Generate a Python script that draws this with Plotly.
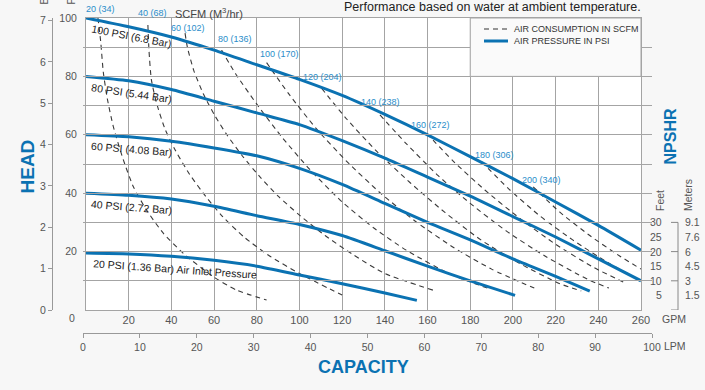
import plotly.graph_objects as go

# ---------------- data ----------------
# Air pressure curves (GPM vs head in ft)
gpm_psi100 = [0, 20, 40, 60, 80, 100, 120, 140, 160, 180, 200, 220, 240, 260]
head_psi100 = [100, 97, 93.5, 89, 84, 79, 73.5, 67, 60, 52.5, 45, 37, 29, 20.5]
gpm_psi80 = [0, 20, 40, 60, 80, 100, 120, 140, 160, 180, 200, 220, 240, 260]
head_psi80 = [80, 78.5, 75.5, 71.5, 67.5, 63.5, 58, 52, 45.5, 39, 32, 25, 17.5, 10]
gpm_psi60 = [0, 20, 40, 60, 80, 100, 120, 140, 160, 180, 200, 220, 236]
head_psi60 = [60, 59.3, 57.8, 55.5, 52.8, 48.5, 43, 36.5, 30, 24, 17.5, 11.5, 6.5]
gpm_psi40 = [0, 20, 40, 60, 80, 100, 120, 140, 160, 180, 201]
head_psi40 = [40, 39.3, 38, 35.5, 32.3, 29.3, 25.5, 20.3, 15, 10, 5]
gpm_psi20 = [0, 20, 40, 60, 80, 100, 120, 140, 155]
head_psi20 = [19.5, 19.2, 18.4, 17, 15, 12, 9, 5.8, 3.3]
psi_labels = ["100 PSI (6.8 Bar)", "80 PSI (5.44 Bar)", "60 PSI (4.08 Bar)",
              "40 PSI (2.72 Bar)", "20 PSI (1.36 Bar) Air Inlet Pressure"]

# Air consumption curves (SCFM)
scfm20_gpm = [5.6, 6.9, 8.1, 10, 12.8, 17.5, 22.2, 28.4, 36.2, 45.6, 59.6, 70.6, 84.6]
scfm20_head = [100, 91.8, 81.5, 72.3, 62.8, 51.4, 42.2, 34.2, 26.3, 19.4, 11.4, 6.8, 3.4]
scfm40_gpm = [29, 29.5, 30.6, 33, 37, 42, 48.5, 56, 64, 74, 86, 100, 120]
scfm40_head = [97.6, 89, 79, 71, 62, 54.5, 46.5, 39, 32, 25, 18.5, 12.5, 5.1]
scfm60_gpm = [46.4, 47.5, 50.5, 55, 60, 66, 73, 81, 90, 100, 112, 125, 140, 162.5]
scfm60_head = [94.8, 90, 82, 74, 67, 60, 53, 46, 39, 32.5, 25.5, 19, 12.5, 6.8]
scfm80_gpm = [63.5, 70, 80, 92, 105, 120, 135, 150, 170, 188]
scfm80_head = [89, 81, 70.5, 59, 48, 37, 28, 20.5, 12.5, 7.5]
scfm100_gpm = [84.6, 95, 108, 122, 138, 155, 172, 190, 210]
scfm100_head = [84.7, 74, 62, 51, 40, 30, 21.5, 14, 7.5]
scfm120_gpm = [110.4, 122, 136, 152, 168, 185, 203, 222, 232]
scfm120_head = [75.9, 65.5, 54.5, 43.5, 33.5, 24, 16, 9, 6.5]
scfm140_gpm = [137.7, 150, 165, 180, 197, 215, 235, 245]
scfm140_head = [66.8, 57, 46, 36.5, 27, 18.5, 10.5, 7.5]
scfm160_gpm = [159.6, 172, 187, 203, 220, 238, 252]
scfm160_head = [60.5, 51, 41, 31.5, 22.5, 14.5, 9.5]
scfm180_gpm = [185.3, 198, 213, 228, 245, 260]
scfm180_head = [50.8, 41.5, 32, 24, 16, 10]
scfm200_gpm = [209.5, 222, 236, 250, 260]
scfm200_head = [42.2, 33.5, 25.5, 18.5, 14]
scfm_labels = ["20 (34)", "40 (68)", "60 (102)", "80 (136)", "100 (170)",
               "120 (204)", "140 (238)", "160 (272)", "180 (306)", "200 (340)"]

# Axis ticks
gpm_ticks = list(range(0, 261, 20))
head_ticks = list(range(0, 101, 10))
head_labels = [20, 40, 60, 80, 100]
bar_ticks = [0, 1, 2, 3, 4, 5, 6, 7]
lpm_ticks = list(range(0, 101, 10))
npshr_feet = [30, 25, 20, 15, 10, 5]
npshr_meters = ["9.1", "7.6", "6", "4.5", "3", "1.5"]
npshr_feet_ticks = [0, 10, 20, 30]

# ---------------- positions / styles ----------------
# label centres in pixels of the 705x390 canvas
scfm_label_px = [100.5, 152.5, 188.3, 235, 279, 322, 380.7, 430.5, 494, 541]
scfm_label_py = [9, 13, 27.7, 39.3, 54.3, 76.7, 102.3, 125, 155, 180]
psi_label_x = [21.1, 21.1, 21.4, 21.5, 41.7]
psi_label_y = [93.7, 74.3, 55.1, 35.4, 14.0]
psi_label_angle = [11, 8.5, 4.5, 4.5, 4]

W, H = 705, 390
ML, MR, MT, MB = 45, 45, 18, 50
PW, PH = W - ML - MR, H - MT - MB


def px(x):
    return (x - ML) / PW


def py(y):
    return (H - MB - y) / PH


BLUE = "#0b72b2"
LBLUE = "#2a8dca"
GRID = "#a4a4a4"
TXT = "#555555"
DARK = "#222222"
FONT = "Liberation Sans, Arial, Helvetica, sans-serif"

fig = go.Figure()

dash_series = [(scfm20_gpm, scfm20_head), (scfm40_gpm, scfm40_head), (scfm60_gpm, scfm60_head),
               (scfm80_gpm, scfm80_head), (scfm100_gpm, scfm100_head), (scfm120_gpm, scfm120_head),
               (scfm140_gpm, scfm140_head), (scfm160_gpm, scfm160_head), (scfm180_gpm, scfm180_head),
               (scfm200_gpm, scfm200_head)]
for gx, hy in dash_series:
    fig.add_trace(go.Scatter(x=gx, y=hy, mode="lines",
                             line=dict(color="#3a3a3a", width=1.1, dash="5px,4px",
                                       shape="spline", smoothing=0.6),
                             showlegend=False, hoverinfo="skip"))

psi_series = [(gpm_psi100, head_psi100), (gpm_psi80, head_psi80), (gpm_psi60, head_psi60),
              (gpm_psi40, head_psi40), (gpm_psi20, head_psi20)]
for gx, hy in psi_series:
    fig.add_trace(go.Scatter(x=gx, y=hy, mode="lines",
                             line=dict(color=BLUE, width=3, shape="spline", smoothing=0.6),
                             showlegend=False, hoverinfo="skip"))

# helper traces so secondary axes render
fig.add_trace(go.Scatter(x=[0], y=[0], yaxis="y2", mode="markers",
                         marker=dict(opacity=0), showlegend=False, hoverinfo="skip"))
fig.add_trace(go.Scatter(x=[0], y=[0], xaxis="x2", mode="markers",
                         marker=dict(opacity=0), showlegend=False, hoverinfo="skip"))

ann = []


def pann(x, y, text, size=10.5, color=TXT, xa="center", ya="middle", angle=0, yref="paper"):
    ann.append(dict(x=px(x), y=(py(y) if yref == "paper" else y), xref="paper", yref=yref,
                    text=text, xanchor=xa, yanchor=ya, textangle=angle, showarrow=False,
                    font=dict(size=size, color=color, family=FONT)))


for t, x, y in zip(scfm_labels, scfm_label_px, scfm_label_py):
    pann(x, y, t, size=9, color=LBLUE)
pann(209, 13, "SCFM (M<sup>3</sup>/hr)", size=11, color="#444")
for t, x, y, a in zip(psi_labels, psi_label_x, psi_label_y, psi_label_angle):
    ann.append(dict(x=x, y=y, xref="x", yref="y", text=t, showarrow=False, textangle=a,
                    xanchor="center", yanchor="middle",
                    font=dict(size=10.5, color=DARK, family=FONT)))

# title
pann(643, 7, "Performance based on water at ambient temperature.", size=12.5, color=DARK, xa="right")
# axis titles
pann(27, 166.5, "<b>HEAD</b>", size=19, color=BLUE, angle=-90)
pann(363, 366.7, "<b>CAPACITY</b>", size=18, color=BLUE)
pann(669.5, 137, "<b>NPSHR</b>", size=16, color=BLUE, angle=-90)
pann(660, 319, "GPM", xa="left")
pann(662, 346, "LPM", xa="left")
pann(72, 318, "0")
# partially visible unit headers
pann(43, 7, "Bar", angle=-90, ya="bottom")
pann(70, 7, "PSI", angle=-90, ya="bottom")
# NPSHR scale
pann(660, 201, "Feet", angle=-90)
pann(688, 195, "Meters", angle=-90)
for f, m in zip(npshr_feet, npshr_meters):
    pann(664, f, str(f), xa="right", yref="y")
    pann(683, f, m, xa="left", yref="y")
# legend texts
pann(512, 29, "AIR CONSUMPTION IN SCFM", size=9, color="#333", xa="left")
pann(512, 41, "AIR PRESSURE IN PSI", size=9, color="#333", xa="left")

shapes = []
# white plot background
shapes.append(dict(type="rect", xref="x domain", yref="y domain", x0=0, x1=1, y0=0, y1=1,
                   fillcolor="white", line=dict(width=0), layer="below"))
# legend box (covers grid)
shapes.append(dict(type="rect", xref="x", yref="y", x0=180, x1=260, y0=80, y1=100,
                   fillcolor="#fafafa", line=dict(color=GRID, width=1), layer="above"))
shapes.append(dict(type="line", xref="paper", yref="paper", x0=px(484), x1=px(508),
                   y0=py(29), y1=py(29), line=dict(color="#333", width=1.2, dash="5px,4px")))
shapes.append(dict(type="line", xref="paper", yref="paper", x0=px(484), x1=px(508),
                   y0=py(41), y1=py(41), line=dict(color=BLUE, width=3)))
# NPSHR bracket
shapes.append(dict(type="line", xref="paper", yref="y", x0=px(678), x1=px(678),
                   y0=0, y1=30, line=dict(color="#888", width=1)))
for f in npshr_feet_ticks:
    shapes.append(dict(type="line", xref="paper", yref="y", x0=px(671), x1=px(678),
                       y0=f, y1=f, line=dict(color="#888", width=1)))

fig.update_layout(
    width=W, height=H,
    margin=dict(l=ML, r=MR, t=MT, b=MB, autoexpand=False),
    paper_bgcolor="#f7f7f7",
    plot_bgcolor="rgba(0,0,0,0)",
    font=dict(family=FONT, color=TXT),
    showlegend=False,
    annotations=ann,
    shapes=shapes,
    xaxis=dict(domain=[px(86), px(641)], range=[0, 260], tickvals=gpm_ticks,
               ticktext=["" if v == 0 else str(v) for v in gpm_ticks],
               showgrid=True, gridcolor=GRID, gridwidth=1, showline=True, mirror=True,
               linecolor=GRID, linewidth=1, zeroline=False, ticks="",
               tickfont=dict(size=11, color=TXT), anchor="y", automargin=False),
    yaxis=dict(domain=[py(310), 1], range=[0, 100], tickvals=head_ticks,
               ticktext=[str(v) if v in head_labels else "" for v in head_ticks],
               showgrid=True, gridcolor=GRID, gridwidth=1, showline=True, mirror=True,
               linecolor=GRID, linewidth=1, zeroline=False, ticks="", ticklabelstandoff=6,
               tickfont=dict(size=10.5, color=TXT), anchor="x", automargin=False),
    yaxis2=dict(overlaying="y", anchor="free", position=px(52), side="left",
                range=[0, 7.06], tickvals=bar_ticks, ticks="outside", ticklen=4,
                tickcolor="#999", showline=True, linecolor="#999", showgrid=False,
                zeroline=False, tickfont=dict(size=10.5, color=TXT), automargin=False),
    xaxis2=dict(anchor="free", position=py(333), domain=[px(83), px(652)], range=[0, 100],
                tickvals=lpm_ticks, ticks="outside", ticklen=4, tickcolor="#999",
                showline=True, linecolor="#999", showgrid=False, zeroline=False,
                side="bottom", tickfont=dict(size=10.5, color=TXT), automargin=False),
)

fig.write_html("out.html", config={"displayModeBar": False},
               post_script="document.body.style.margin='0';document.body.style.overflow='hidden';")
